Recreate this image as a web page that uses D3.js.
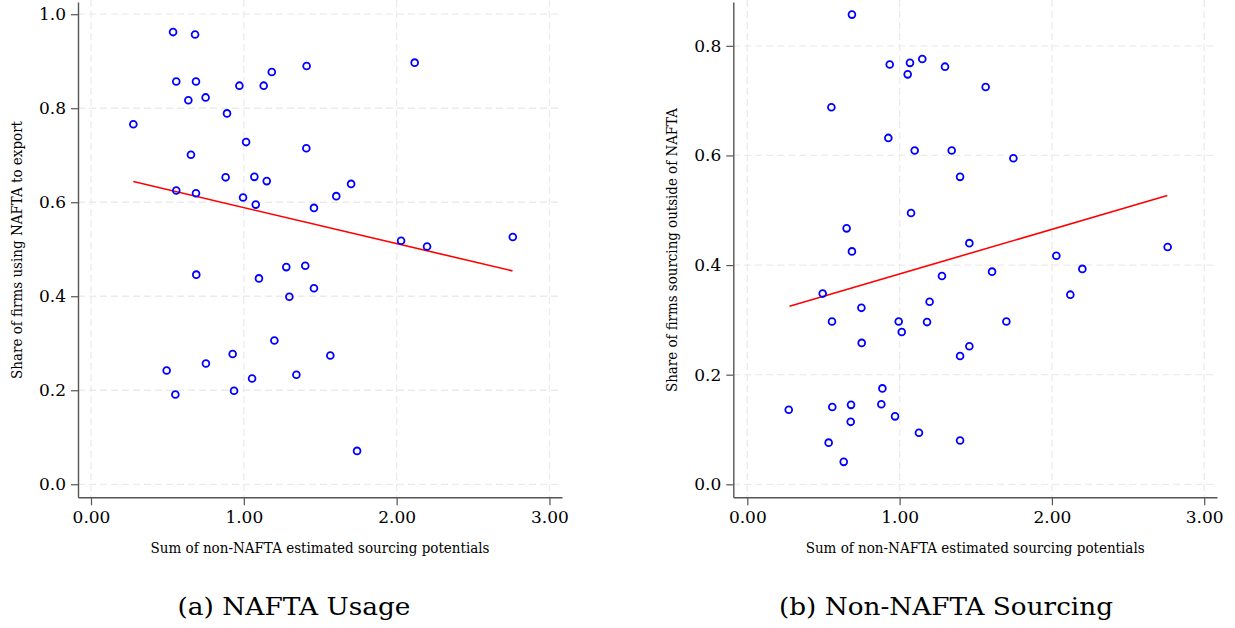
<!DOCTYPE html>
<html>
<head>
<meta charset="utf-8">
<script src="https://cdn.jsdelivr.net/npm/d3@7"></script>
<style>
  body { margin: 0; background: #fff; }
  svg { display: block; }
</style>
</head>
<body>
<svg id="chart" width="1235" height="628"></svg>
<script>
// values (x = sum of non-NAFTA sourcing potentials)
const usageX = [0.277, 0.537, 0.681, 0.558, 0.687, 0.637, 0.750, 0.971, 1.130, 1.183,
  1.411, 0.890, 1.015, 0.654, 1.409, 0.881, 1.069, 1.150, 0.558, 0.687,
  0.995, 1.078, 1.459, 1.605, 1.702, 2.118, 2.029, 2.199, 2.760, 0.689,
  1.099, 1.278, 1.402, 1.459, 1.298, 1.200, 0.927, 1.566, 0.752, 0.495,
  1.344, 1.054, 0.552, 0.936, 1.741];
const usageY = [0.766, 0.962, 0.957, 0.857, 0.857, 0.817, 0.823, 0.848, 0.848, 0.877,
  0.890, 0.789, 0.728, 0.701, 0.715, 0.653, 0.654, 0.645, 0.625, 0.619,
  0.610, 0.595, 0.588, 0.613, 0.639, 0.897, 0.518, 0.506, 0.526, 0.446,
  0.438, 0.462, 0.465, 0.417, 0.399, 0.306, 0.277, 0.274, 0.257, 0.242,
  0.233, 0.225, 0.191, 0.199, 0.071];

const sourcingX = [0.687, 0.935, 1.068, 1.149, 1.053, 1.298, 0.552, 0.926, 1.099, 1.342,
  1.397, 1.075, 0.652, 0.687, 1.565, 1.747, 1.458, 2.029, 2.760, 0.495,
  1.278, 1.197, 0.749, 0.556, 0.994, 1.180, 1.014, 0.751, 1.397, 0.887,
  0.272, 0.558, 0.681, 0.880, 0.679, 0.970, 1.127, 0.534, 0.633, 1.397,
  1.607, 2.200, 2.121, 1.701, 1.458];
const sourcingY = [0.857, 0.766, 0.769, 0.776, 0.748, 0.762, 0.688, 0.632, 0.609, 0.609,
  0.561, 0.495, 0.467, 0.425, 0.725, 0.595, 0.440, 0.417, 0.433, 0.348,
  0.380, 0.333, 0.322, 0.297, 0.297, 0.296, 0.278, 0.258, 0.234, 0.175,
  0.136, 0.141, 0.145, 0.146, 0.114, 0.124, 0.094, 0.076, 0.041, 0.080,
  0.388, 0.393, 0.346, 0.297, 0.252];

// fitted lines (end points)
const fitX = [0.277, 2.758];
const usageFitY = [0.644, 0.454];
const sourcingFitY = [0.325, 0.527];

const xTicks = [0, 1, 2, 3];
const usageYTicks = [0, 0.2, 0.4, 0.6, 0.8, 1.0];
const sourcingYTicks = [0, 0.2, 0.4, 0.6, 0.8];

const FONT = "DejaVu Serif";
const svg = d3.select("#chart");

function drawPanel(opts) {
  const g = svg.append("g");
  const x = d3.scaleLinear().domain(opts.xDomain).range([opts.left, opts.right]);
  const y = d3.scaleLinear().domain(opts.yDomain).range([opts.bottom, opts.top]);

  // dashed grid
  g.selectAll("line.hgrid")
    .data(opts.yTicks)
    .join("line")
    .attr("class", "hgrid")
    .attr("x1", opts.left)
    .attr("x2", opts.right - 3)
    .attr("y1", d => y(d))
    .attr("y2", d => y(d))
    .attr("stroke", "#ebebeb")
    .attr("stroke-width", 1.3)
    .attr("stroke-dasharray", "7,4");

  g.selectAll("line.vgrid")
    .data(xTicks)
    .join("line")
    .attr("class", "vgrid")
    .attr("x1", d => x(d))
    .attr("x2", d => x(d))
    .attr("y1", 0)
    .attr("y2", opts.bottom)
    .attr("stroke", "#ebebeb")
    .attr("stroke-width", 1.3)
    .attr("stroke-dasharray", "7,4");

  // fit line
  g.append("line")
    .attr("x1", x(fitX[0]))
    .attr("y1", y(opts.fitY[0]))
    .attr("x2", x(fitX[1]))
    .attr("y2", y(opts.fitY[1]))
    .attr("stroke", "#ff0000")
    .attr("stroke-width", 1.6);

  // hollow markers
  g.selectAll("circle")
    .data(opts.xs.map((v, i) => [v, opts.ys[i]]))
    .join("circle")
    .attr("cx", d => x(d[0]))
    .attr("cy", d => y(d[1]))
    .attr("r", 3.4)
    .attr("fill", "none")
    .attr("stroke", "#0000ff")
    .attr("stroke-width", 1.8);

  // axes
  const yAxis = g.append("g")
    .attr("transform", `translate(${opts.left},0)`)
    .call(d3.axisLeft(y)
      .tickValues(opts.yTicks)
      .tickFormat(d3.format(".1f"))
      .tickSize(7)
      .tickPadding(5)
      .tickSizeOuter(0));

  const xAxis = g.append("g")
    .attr("transform", `translate(0,${opts.bottom})`)
    .call(d3.axisBottom(x)
      .tickValues(xTicks)
      .tickFormat(d3.format(".2f"))
      .tickSize(8)
      .tickPadding(6)
      .tickSizeOuter(0));

  [yAxis, xAxis].forEach(a => {
    a.attr("font-family", FONT).attr("font-size", 17);
    a.select(".domain").attr("stroke", "#555").attr("stroke-width", 1.4);
    a.selectAll(".tick line").attr("stroke", "#555").attr("stroke-width", 1.2);
    a.selectAll(".tick text").attr("fill", "#000");
  });

  // axis titles
  g.append("text")
    .attr("x", (opts.left + opts.right) / 2)
    .attr("y", 553)
    .attr("text-anchor", "middle")
    .attr("font-family", FONT)
    .attr("font-size", 15)
    .attr("textLength", 339)
    .attr("lengthAdjust", "spacingAndGlyphs")
    .text("Sum of non-NAFTA estimated sourcing potentials");

  g.append("text")
    .attr("transform", `translate(${opts.yTitleX},250) rotate(-90)`)
    .attr("text-anchor", "middle")
    .attr("font-family", FONT)
    .attr("font-size", 15)
    .attr("textLength", opts.yTitleW)
    .attr("lengthAdjust", "spacingAndGlyphs")
    .text(opts.yTitle);

  // caption
  g.append("text")
    .attr("x", opts.captionX)
    .attr("y", 615)
    .attr("text-anchor", "middle")
    .attr("textLength", opts.captionW)
    .attr("lengthAdjust", "spacingAndGlyphs")
    .attr("font-family", FONT)
    .attr("font-size", 25)
    .text(opts.caption);
}

drawPanel({
  xs: usageX, ys: usageY, fitY: usageFitY,
  xDomain: [-0.085, 3.082], yDomain: [-0.0277, 1.026],
  left: 78, right: 562, top: 2, bottom: 497.3,
  yTicks: usageYTicks,
  yTitle: "Share of firms using NAFTA to export", yTitleX: 22, yTitleW: 258,
  caption: "(a) NAFTA Usage", captionX: 294, captionW: 233
});

drawPanel({
  xs: sourcingX, ys: sourcingY, fitY: sourcingFitY,
  xDomain: [-0.092, 3.084], yDomain: [-0.0237, 0.88],
  left: 733.3, right: 1217, top: 2, bottom: 497.3,
  yTicks: sourcingYTicks,
  yTitle: "Share of firms sourcing outside of NAFTA", yTitleX: 677, yTitleW: 284,
  caption: "(b) Non-NAFTA Sourcing", captionX: 946, captionW: 334
});
</script>
</body>
</html>
